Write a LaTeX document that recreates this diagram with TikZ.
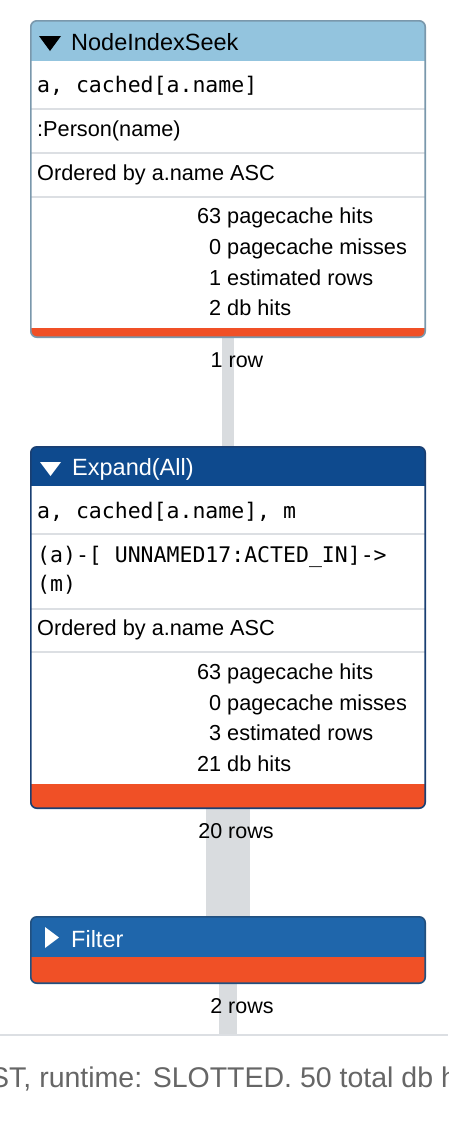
\documentclass[tikz,border=0pt]{standalone}
\usepackage{fontspec}
\setmainfont{Liberation Sans}
\newfontfamily\monof{DejaVu Sans Mono}
\pgfdeclarelayer{bg}
\pgfsetlayers{bg,main}
\definecolor{seekhdr}{HTML}{93C4DE}
\definecolor{seekborder}{HTML}{7A98AC}
\definecolor{exphdr}{HTML}{0E4A8E}
\definecolor{expborder}{HTML}{1A3F72}
\definecolor{filthdr}{HTML}{1F66AB}
\definecolor{filtborder}{HTML}{22507F}
\definecolor{costorange}{HTML}{F05026}
\definecolor{sepgray}{HTML}{DCDFE3}
\definecolor{bargray}{HTML}{D9DCDF}
\definecolor{footgray}{HTML}{666666}
\tikzset{
  opbox/.style={rectangle, minimum width=394pt, inner sep=0pt, fill=white},
  boxborder/.style={rounded corners=6pt, line width=1.6pt},
  txt/.style={anchor=base west, inner sep=0pt, font=\fontsize{21.7}{25}\selectfont},
  mono/.style={anchor=base west, inner sep=0pt, font=\monof\fontsize{21.5}{25}\selectfont},
  hdr/.style={anchor=base west, inner sep=0pt, font=\fontsize{23.5}{27}\selectfont},
  sep/.style={draw=sepgray, line width=2pt},
  bar/.style={draw=bargray},
  lbl/.style={anchor=base, inner sep=0pt, font=\fontsize{21.5}{25}\selectfont},
}
\newcommand{\statline}[2]{\makebox[24pt][r]{#1} #2}
\begin{document}
\begin{tikzpicture}[x=1pt,y=-1pt]
\useasboundingbox (0,0) rectangle (448,1122);

% ---------- operator boxes ----------
\node[opbox, minimum height=316pt] (seek) at (228,179) {};
\node[opbox, minimum height=361pt] (expand) at (228,627.5) {};
\node[opbox, minimum height=66pt] (filter) at (228,950) {};
\coordinate (foot) at (228,1035);

% ---------- connectors (background) ----------
\begin{pgfonlayer}{bg}
\fill[white] (0,0) rectangle (448,1122);
\draw[bar, line width=12pt] (seek.south) -- (expand.north);
\draw[bar, line width=44pt] (expand.south) -- (filter.north);
\draw[bar, line width=18pt] (filter.south) -- (foot);
\end{pgfonlayer}

% ---------- NodeIndexSeek ----------
\begin{scope}
\clip[rounded corners=6pt] (seek.north west) rectangle (seek.south east);
\fill[seekhdr] (seek.north west) rectangle (425,61);
\fill[costorange] (31,328) rectangle (seek.south east);
\draw[sep] (31,109) -- (425,109);
\draw[sep] (31,153) -- (425,153);
\draw[sep] (31,197) -- (425,197);
\end{scope}
\draw[seekborder, boxborder] (seek.north west) rectangle (seek.south east);
\fill[black] (39,36) -- (61,36) -- (50,51) -- cycle;
\node[hdr, text=black] (seekt) at (71,50) {NodeIndexSeek};
\node[mono] (seek1) at (37,92) {a, cached[a.name]};
\node[txt] (seek2) at (37,136) {:Person(name)};
\node[txt] (seek3) at (37,180) {Ordered by a.name ASC};
\node[txt] (seek4) at (197,223) {\statline{63}{pagecache hits}};
\node[txt] (seek5) at (197,254) {\statline{0}{pagecache misses}};
\node[txt] (seek6) at (197,285) {\statline{1}{estimated rows}};
\node[txt] (seek7) at (197,315) {\statline{2}{db hits}};

% ---------- Expand(All) ----------
\begin{scope}
\clip[rounded corners=6pt] (expand.north west) rectangle (expand.south east);
\fill[exphdr] (expand.north west) rectangle (425,486);
\fill[costorange] (31,784) rectangle (expand.south east);
\draw[sep] (31,534) -- (425,534);
\draw[sep] (31,609) -- (425,609);
\draw[sep] (31,652) -- (425,652);
\end{scope}
\draw[expborder, boxborder] (expand.north west) rectangle (expand.south east);
\fill[white] (40,462) -- (61,462) -- (50.5,476) -- cycle;
\node[hdr, text=white] (expt) at (72,475) {Expand(All)};
\node[mono] (exp1) at (37,518) {a, cached[a.name], m};
\node[mono] (exp2) at (37,562) {(a)-[ UNNAMED17:ACTED\_IN]->};
\node[mono] (exp3) at (37,591) {(m)};
\node[txt] (exp4) at (37,635) {Ordered by a.name ASC};
\node[txt] (exp5) at (197,679) {\statline{63}{pagecache hits}};
\node[txt] (exp6) at (197,710) {\statline{0}{pagecache misses}};
\node[txt] (exp7) at (197,740) {\statline{3}{estimated rows}};
\node[txt] (exp8) at (197,771) {\statline{21}{db hits}};

% ---------- Filter ----------
\begin{scope}
\clip[rounded corners=6pt] (filter.north west) rectangle (filter.south east);
\fill[filthdr] (filter.north west) rectangle (425,957);
\fill[costorange] (31,957) rectangle (filter.south east);
\end{scope}
\draw[filtborder, boxborder] (filter.north west) rectangle (filter.south east);
\fill[white] (45,927) -- (59,937.5) -- (45,948) -- cycle;
\node[hdr, text=white] (filtt) at (71,947) {Filter};

% ---------- row labels ----------
\node[lbl] (l1) at (237,367) {1 row};
\node[lbl] (l2) at (236,838) {20 rows};
\node[lbl] (l3) at (242,1013) {2 rows};

% ---------- footer ----------
\draw[draw=sepgray, line width=2pt] (0,1035) -- (448,1035);
\begin{scope}
\clip (0,1036) rectangle (448,1122);
\node[anchor=base west, inner sep=0pt, text=footgray, font=\fontsize{28.5}{32}\selectfont] (foott) at (-10,1087) {ST, runtime: SLOTTED. 50 total db h};
\end{scope}
\end{tikzpicture}
\end{document}
